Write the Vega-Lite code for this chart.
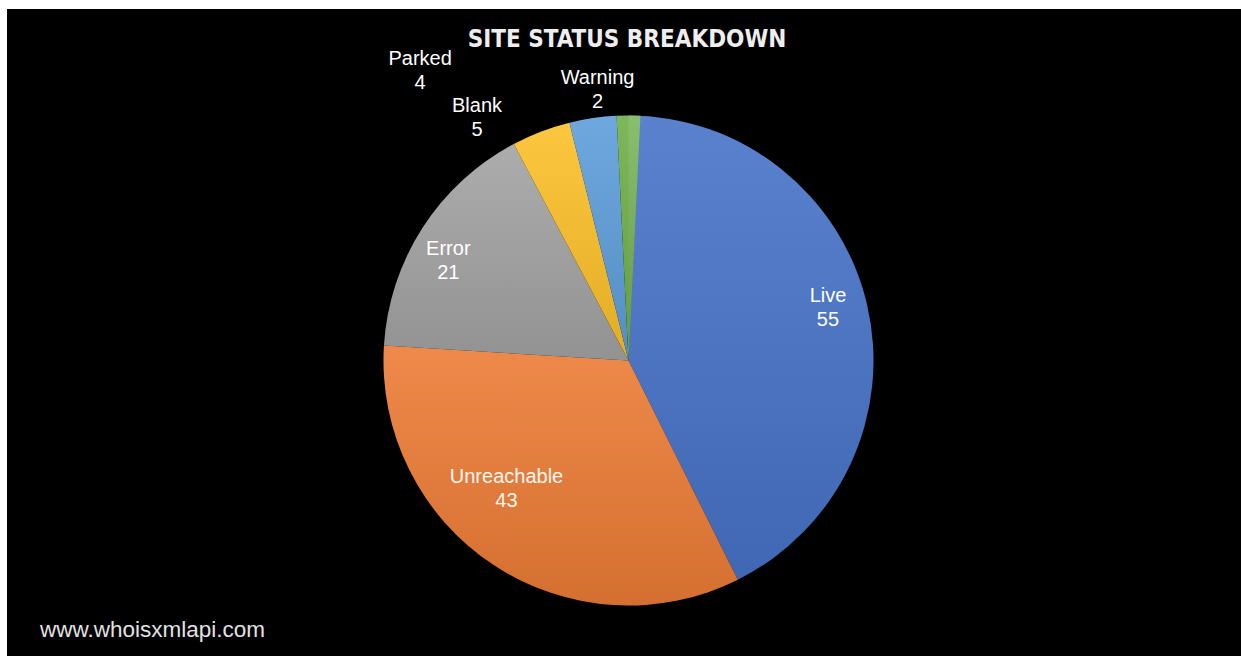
{
  "$schema": "https://vega.github.io/schema/vega-lite/v6.json",
  "background": "white",
  "autosize": {"type": "fit", "contains": "padding"},
  "width": 1241,
  "height": 656,
  "padding": {"left": 7, "top": 9, "right": 0, "bottom": 0},
  "view": {"fill": "#000000", "stroke": null},
  "config": {"view": {"fill": "#000000", "stroke": null}},
  "title": {
    "text": "SITE STATUS BREAKDOWN",
    "orient": "top",
    "anchor": "middle",
    "offset": -62,
    "dx": 3,
    "baseline": "alphabetic",
    "font": "DejaVu Sans Condensed",
    "fontSize": 24,
    "fontWeight": "bold",
    "color": "#EEEEEE"
  },
  "data": {
    "values": [
      {"status": "Live", "count": 55},
      {"status": "Unreachable", "count": 43},
      {"status": "Error", "count": 21},
      {"status": "Blank", "count": 5},
      {"status": "Parked", "count": 4},
      {"status": "Warning", "count": 2}
    ]
  },
  "transform": [
    {"stack": "count", "groupby": [], "sort": [{"field": "count", "order": "descending"}], "as": ["s0", "s1"]},
    {"calculate": "(datum.s0 + datum.s1) / 2", "as": "mid"},
    {"calculate": "datum.status + '\\n' + datum.count", "as": "label"}
  ],
  "layer": [
    {
      "mark": {"type": "arc", "outerRadius": 245, "x": {"expr": "width/2+4.5"}, "y": {"expr": "height/2+28"}},
      "encoding": {
        "theta": {"field": "s0", "type": "quantitative", "scale": {"zero": true, "nice": false}},
        "theta2": {"field": "s1"},
        "color": {
          "field": "status",
          "type": "nominal",
          "scale": {
            "domain": ["Live", "Unreachable", "Error", "Blank", "Parked", "Warning"],
            "range": ["#4773C8", "#EC7C36", "#A3A3A3", "#FDC02A", "#5D9EDA", "#6FAF48"]
          },
          "legend": {
            "orient": "none",
            "legendX": 33,
            "legendY": 610,
            "title": "www.whoisxmlapi.com",
            "titleOrient": "left",
            "titleFont": "Liberation Sans",
            "titleFontSize": 22.5,
            "titleFontWeight": "normal",
            "titleColor": "#E2E2E2",
            "titleBaseline": "top",
            "titlePadding": 0,
            "titleLimit": 400,
            "direction": "horizontal",
            "padding": 0,
            "symbolSize": 0,
            "symbolOpacity": 0,
            "symbolStrokeWidth": 0,
            "labelOpacity": 0,
            "labelFontSize": 1,
            "labelLimit": 1,
            "rowPadding": 0,
            "columnPadding": 0
          }
        }
      }
    },
    {
      "mark": {
        "type": "arc",
        "outerRadius": 245,
        "x": {"expr": "width/2+4.5"},
        "y": {"expr": "height/2+28"},
        "fill": {
          "gradient": "linear",
          "x1": 0, "y1": 0, "x2": 0, "y2": 1,
          "stops": [
            {"offset": 0, "color": "rgba(255,255,255,0.10)"},
            {"offset": 1, "color": "rgba(0,0,0,0.10)"}
          ]
        }
      },
      "encoding": {
        "theta": {"field": "s0", "type": "quantitative"},
        "theta2": {"field": "s1"}
      }
    },
    {
      "transform": [{"filter": "datum.status === 'Live'"}],
      "mark": {"type": "text", "radius": 207, "dx": -2, "dy": -17, "x": {"expr": "width/2+4.5"}, "y": {"expr": "height/2+28"}, "font": "Liberation Sans", "fontSize": 20, "lineHeight": 24, "lineBreak": "\n", "align": "center", "baseline": "middle", "color": "#FFFFFF"},
      "encoding": {"theta": {"field": "mid", "type": "quantitative"}, "text": {"field": "label", "type": "nominal"}}
    },
    {
      "transform": [{"filter": "datum.status === 'Error'"}],
      "mark": {"type": "text", "radius": 206, "dx": -7, "dy": 0, "x": {"expr": "width/2+4.5"}, "y": {"expr": "height/2+28"}, "font": "Liberation Sans", "fontSize": 20, "lineHeight": 24, "lineBreak": "\n", "align": "center", "baseline": "middle", "color": "#FFFFFF"},
      "encoding": {"theta": {"field": "mid", "type": "quantitative"}, "text": {"field": "label", "type": "nominal"}}
    },
    {
      "transform": [{"filter": "datum.status === 'Unreachable'"}],
      "mark": {"type": "text", "radius": 174, "dx": -26, "dy": -29, "x": {"expr": "width/2+4.5"}, "y": {"expr": "height/2+28"}, "font": "Liberation Sans", "fontSize": 20, "lineHeight": 24, "lineBreak": "\n", "align": "center", "baseline": "middle", "color": "#FFF6EE"},
      "encoding": {"theta": {"field": "mid", "type": "quantitative"}, "text": {"field": "label", "type": "nominal"}}
    },
    {
      "transform": [{"filter": "datum.status === 'Blank'"}],
      "mark": {"type": "text", "radius": 284, "dx": -50, "dy": 11, "x": {"expr": "width/2+4.5"}, "y": {"expr": "height/2+28"}, "font": "Liberation Sans", "fontSize": 20, "lineHeight": 24, "lineBreak": "\n", "align": "center", "baseline": "middle", "color": "#FFFFFF"},
      "encoding": {"theta": {"field": "mid", "type": "quantitative"}, "text": {"field": "label", "type": "nominal"}}
    },
    {
      "transform": [{"filter": "datum.status === 'Parked'"}],
      "mark": {"type": "text", "radius": 325, "dx": -161, "dy": 20, "x": {"expr": "width/2+4.5"}, "y": {"expr": "height/2+28"}, "font": "Liberation Sans", "fontSize": 20, "lineHeight": 24, "lineBreak": "\n", "align": "center", "baseline": "middle", "color": "#FFFFFF"},
      "encoding": {"theta": {"field": "mid", "type": "quantitative"}, "text": {"field": "label", "type": "nominal"}}
    },
    {
      "transform": [{"filter": "datum.status === 'Warning'"}],
      "mark": {"type": "text", "radius": 272, "dx": -31, "dy": -11, "x": {"expr": "width/2+4.5"}, "y": {"expr": "height/2+28"}, "font": "Liberation Sans", "fontSize": 20, "lineHeight": 24, "lineBreak": "\n", "align": "center", "baseline": "middle", "color": "#FFFFFF"},
      "encoding": {"theta": {"field": "mid", "type": "quantitative"}, "text": {"field": "label", "type": "nominal"}}
    }
  ]
}
